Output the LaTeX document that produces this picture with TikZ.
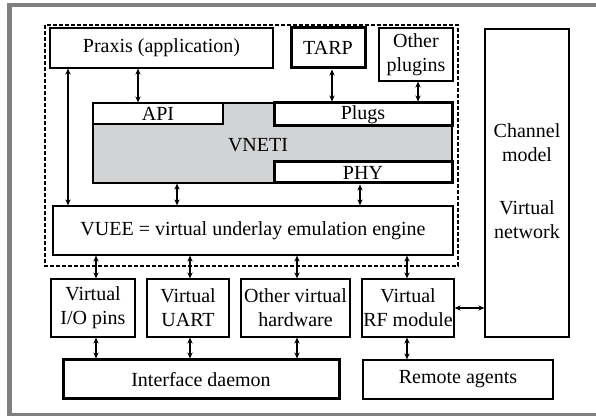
\documentclass[tikz,border=0pt]{standalone}
\usepackage{fontspec}
\setmainfont{Liberation Serif}
\usetikzlibrary{arrows.meta}
\definecolor{vnetigray}{RGB}{210,211,213}
\definecolor{framegray}{RGB}{128,128,128}

\begin{document}
\begin{tikzpicture}[x=0.5pt, y=-0.5pt,
  every node/.style = {font=\fontsize{10}{12}\selectfont, inner sep=0pt},
  blk/.style = {draw, rectangle, line width=0.6pt, fill=white, align=center},
  thickblk/.style = {blk, line width=1.5pt},
  arr/.style = {{Stealth[length=3pt,width=2.6pt]}-{Stealth[length=3pt,width=2.6pt]}, line width=0.6pt}]

\useasboundingbox (0,0) rectangle (596,416);

% screenshot frame
\fill[framegray] (7,3) rectangle (596,7);
\fill[framegray] (7,3) rectangle (12,416);
\fill[framegray] (7,413) rectangle (596,416);

% node boundary
\draw[line width=1pt, dash pattern=on 2pt off 1pt] (45,25) rectangle (458,266);

\node[blk, minimum width=111.5pt, minimum height=20pt] (praxis) at (161.5,48) {Praxis (application)};
\node[thickblk, minimum width=37pt, minimum height=20pt] (tarp) at (328,48) {TARP};
\node[blk, minimum width=37pt, minimum height=26.5pt] (plugins) at (416,54.5) {Other\\plugins};

\node[draw, line width=0.6pt, fill=vnetigray, minimum width=179.5pt, minimum height=40pt] (vneti) at (272.5,143) {};
\node (vnetitxt) at (258,145) {VNETI};
\node[blk, minimum width=65pt, minimum height=10.5pt] (api) at (158,113.5) {API};
\node[thickblk, minimum width=89pt, minimum height=11.5pt] (plugs) at (363,114.5) {Plugs};
\node[thickblk, minimum width=89pt, minimum height=10.5pt] (phy) at (363,172.5) {PHY};

\node[blk, minimum width=200pt, minimum height=24.5pt] (vuee) at (253,230.5) {VUEE = virtual underlay emulation engine};

\node[blk, minimum width=42pt, minimum height=29pt] (io) at (93,308) {Virtual\\I/O pins};
\node[blk, minimum width=41pt, minimum height=29pt] (uart) at (188,308) {Virtual\\UART};
\node[blk, minimum width=54.5pt, minimum height=29pt] (otherhw) at (295.5,308) {Other virtual\\hardware};
\node[blk, minimum width=46pt, minimum height=29pt] (rf) at (408,308) {Virtual\\RF module};

\node[blk, minimum width=42pt, minimum height=154pt] (channel) at (527,183) {};
\node[align=center] (chantxt) at (527,143) {Channel\\model};
\node[align=center] (nettxt) at (527,220) {Virtual\\network};

\node[thickblk, minimum width=138pt, minimum height=19.5pt] (daemon) at (201,379.5) {Interface daemon};
\node[blk, minimum width=95pt, minimum height=19.5pt] (remote) at (458,379.5) {Remote agents};

% connectors
\draw[arr] (praxis.south -| 68,0) -- (vuee.north -| 68,0);
\draw[arr] (praxis.south -| 138,0) -- (api.north -| 138,0);
\draw[arr] (vneti.south -| 177,0) -- (vuee.north -| 177,0);
\draw[arr] (tarp.south -| 332,0) -- (plugs.north -| 332,0);
\draw[arr] (plugins.south -| 418,0) -- (plugs.north -| 418,0);
\draw[arr] (phy.south -| 360,0) -- (vuee.north -| 360,0);

\draw[arr] (vuee.south -| 96,0) -- (io.north -| 96,0);
\draw[arr] (vuee.south -| 190,0) -- (uart.north -| 190,0);
\draw[arr] (vuee.south -| 297,0) -- (otherhw.north -| 297,0);
\draw[arr] (vuee.south -| 407,0) -- (rf.north -| 407,0);

\draw[arr] (io.south -| 96,0) -- (daemon.north -| 96,0);
\draw[arr] (uart.south -| 190,0) -- (daemon.north -| 190,0);
\draw[arr] (otherhw.south -| 297,0) -- (daemon.north -| 297,0);
\draw[arr] (rf.south -| 407,0) -- (remote.north -| 407,0);
\draw[arr] (rf.east) -- (rf.east -| channel.west);

\end{tikzpicture}
\end{document}
